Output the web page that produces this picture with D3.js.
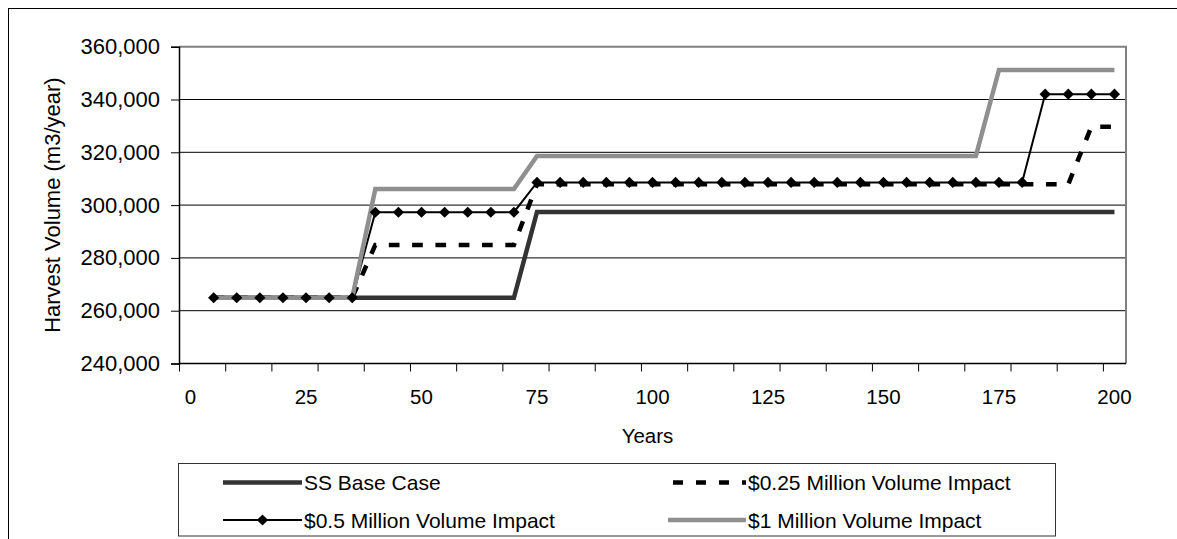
<!DOCTYPE html>
<html>
<head>
<meta charset="utf-8">
<script src="https://cdn.jsdelivr.net/npm/d3@7"></script>
<style>
  html, body { margin: 0; padding: 0; background: #fff; }
  svg { display: block; font-family: "Liberation Sans", Arial, sans-serif; }
</style>
</head>
<body>
<svg id="chart" width="1177" height="539"></svg>
<script>
// ---------- data ----------
const categories = [0, 5, 10, 15, 20, 25, 30, 35, 40, 45, 50, 55, 60, 65, 70, 75, 80, 85, 90, 95, 100,
  105, 110, 115, 120, 125, 130, 135, 140, 145, 150, 155, 160, 165, 170, 175, 180, 185, 190, 195, 200];
const dataYears = [5, 10, 15, 20, 25, 30, 35, 40, 45, 50, 55, 60, 65, 70, 75, 80, 85, 90, 95, 100,
  105, 110, 115, 120, 125, 130, 135, 140, 145, 150, 155, 160, 165, 170, 175, 180, 185, 190, 195, 200];
const xTickLabels = [0, 25, 50, 75, 100, 125, 150, 175, 200];
const yTickValues = [240000, 260000, 280000, 300000, 320000, 340000, 360000];

const seriesNames = ["SS Base Case", "$0.25 Million Volume Impact", "$0.5 Million Volume Impact", "$1 Million Volume Impact"];

const baseCase = [264900, 264900, 264900, 264900, 264900, 264900, 264900, 264900, 264900, 264900,
  264900, 264900, 264900, 264900, 297400, 297400, 297400, 297400, 297400, 297400,
  297400, 297400, 297400, 297400, 297400, 297400, 297400, 297400, 297400, 297400,
  297400, 297400, 297400, 297400, 297400, 297400, 297400, 297400, 297400, 297400];
const impact025 = [264900, 264900, 264900, 264900, 264900, 264900, 264900, 284900, 284900, 284900,
  284900, 284900, 284900, 284900, 307900, 307900, 307900, 307900, 307900, 307900,
  307900, 307900, 307900, 307900, 307900, 307900, 307900, 307900, 307900, 307900,
  307900, 307900, 307900, 307900, 307900, 307900, 307900, 307900, 329700, 329700];
const impact05 = [264900, 264900, 264900, 264900, 264900, 264900, 264900, 297300, 297300, 297300,
  297300, 297300, 297300, 297300, 308600, 308600, 308600, 308600, 308600, 308600,
  308600, 308600, 308600, 308600, 308600, 308600, 308600, 308600, 308600, 308600,
  308600, 308600, 308600, 308600, 308600, 308600, 342000, 342000, 342000, 342000];
const impact1 = [264900, 264900, 264900, 264900, 264900, 264900, 264900, 306100, 306100, 306100,
  306100, 306100, 306100, 306100, 318600, 318600, 318600, 318600, 318600, 318600,
  318600, 318600, 318600, 318600, 318600, 318600, 318600, 318600, 318600, 318600,
  318600, 318600, 318600, 318600, 351200, 351200, 351200, 351200, 351200, 351200];

// ---------- layout ----------
const plot = { left: 179, right: 1126, top: 46.7, bottom: 363.5 };
const svg = d3.select("#chart");

// outer chart border (extends beyond the picture on the right/bottom)
svg.append("rect").attr("x", 8.5).attr("y", 8.5).attr("width", 1300).attr("height", 700)
  .attr("fill", "#fff").attr("stroke", "#000").attr("stroke-width", 1);

const x = d3.scaleBand().domain(categories).range([plot.left, plot.right]).padding(0);
const xBound = d3.scaleLinear().domain([0, categories.length]).range([plot.left, plot.right]);
const y = d3.scaleLinear().domain([240000, 360000]).range([plot.bottom, plot.top]);
const cx = yr => x(yr) + x.bandwidth() / 2;

// gridlines
svg.append("g").selectAll("line").data(yTickValues.filter(v => v > 240000 && v < 360000)).join("line")
  .attr("x1", plot.left).attr("x2", plot.right)
  .attr("y1", d => y(d)).attr("y2", d => y(d))
  .attr("stroke", "#000").attr("stroke-width", 1);

// plot border top/right (gray)
svg.append("path")
  .attr("d", `M${plot.left},${y(360000)}H${plot.right}V${plot.bottom}`)
  .attr("fill", "none").attr("stroke", "#808080").attr("stroke-width", 2);

// y axis
const yAxis = d3.axisLeft(y).tickValues(yTickValues).tickFormat(d3.format(",")).tickSize(8).tickPadding(11);
const gy = svg.append("g").attr("transform", `translate(${plot.left},0)`).call(yAxis);
gy.select(".domain").attr("stroke", "#000").attr("stroke-width", 1.5);
gy.selectAll(".tick line").attr("stroke", "#000").attr("stroke-width", 1);
gy.selectAll(".tick text").attr("font-size", 22).attr("fill", "#000")
  .attr("font-family", "'Liberation Sans', Arial, sans-serif");

// x axis: tick marks every 2 categories (boundaries)
const boundaryTicks = [0, 2, 4, 6, 8, 10, 12, 14, 16, 18, 20, 22, 24, 26, 28, 30, 32, 34, 36, 38, 40];
const xAxisMarks = d3.axisBottom(xBound).tickValues(boundaryTicks).tickSize(8).tickFormat("");
const gxm = svg.append("g").attr("transform", `translate(0,${plot.bottom})`).call(xAxisMarks);
gxm.select(".domain").attr("stroke", "#000").attr("stroke-width", 1.5)
  .attr("d", `M${plot.left},0H${plot.right}`);
gxm.selectAll(".tick line").attr("stroke", "#000").attr("stroke-width", 1);

// x axis labels at category centres
const xAxisLabels = d3.axisBottom(x).tickValues(xTickLabels).tickSize(0).tickPadding(26);
const gxl = svg.append("g").attr("transform", `translate(0,${plot.bottom})`).call(xAxisLabels);
gxl.select(".domain").remove();
gxl.selectAll(".tick text").attr("font-size", 20.5).attr("fill", "#000")
  .attr("font-family", "'Liberation Sans', Arial, sans-serif");

// axis titles
svg.append("text").attr("x", (plot.left + plot.right) / 2 - 5).attr("y", 443)
  .attr("text-anchor", "middle").attr("font-size", 20.5).attr("fill", "#000").text("Years");
svg.append("text").attr("transform", `translate(60,${(plot.top + plot.bottom) / 2}) rotate(-90)`)
  .attr("text-anchor", "middle").attr("font-size", 22).attr("fill", "#000").text("Harvest Volume (m3/year)");

// series
const styles = [
  { color: "#333333", width: 4.5, dash: null },
  { color: "#000000", width: 4.5, dash: "10.7,12.6" },
  { color: "#000000", width: 2, dash: null, marker: true },
  { color: "#8f8f8f", width: 4.5, dash: null }
];
const seriesData = [baseCase, impact025, impact05, impact1];
const line = d3.line().x((d, i) => cx(dataYears[i])).y(d => y(d));

seriesData.forEach((vals, si) => {
  const st = styles[si];
  svg.append("path").datum(vals).attr("d", line)
    .attr("fill", "none").attr("stroke", st.color).attr("stroke-width", st.width)
    .attr("stroke-dasharray", st.dash).attr("stroke-linejoin", "miter");
});

const diamond = d3.symbol().type(d3.symbolDiamond2).size(80);
svg.append("g").selectAll("path").data(impact05).join("path")
  .attr("transform", (d, i) => `translate(${cx(dataYears[i])},${y(d)})`)
  .attr("d", diamond).attr("fill", "#000");

// legend
const legend = svg.append("g");
legend.append("rect").attr("x", 178.5).attr("y", 463.5).attr("width", 877).attr("height", 72.5)
  .attr("fill", "#fff").attr("stroke", "#333").attr("stroke-width", 1);
const legendPos = [
  { x0: 223, x1: 302, y: 482.5 },
  { x0: 668, x1: 746, y: 482.5 },
  { x0: 223, x1: 302, y: 520 },
  { x0: 668, x1: 746, y: 520 }
];
seriesNames.forEach((name, i) => {
  const p = legendPos[i], st = styles[i];
  legend.append("line").attr("x1", p.x0).attr("x2", p.x1).attr("y1", p.y).attr("y2", p.y)
    .attr("stroke", st.color).attr("stroke-width", st.width)
    .attr("stroke-dasharray", st.dash ? "10,13" : null)
    .attr("stroke-dashoffset", st.dash ? -5 : null);
  if (st.marker) {
    legend.append("path").attr("transform", `translate(${(p.x0 + p.x1) / 2},${p.y})`)
      .attr("d", diamond).attr("fill", "#000");
  }
  legend.append("text").attr("x", p.x1 + 2).attr("y", p.y).attr("dy", "0.36em")
    .attr("font-size", 21).attr("fill", "#000").text(name);
});
</script>
</body>
</html>
